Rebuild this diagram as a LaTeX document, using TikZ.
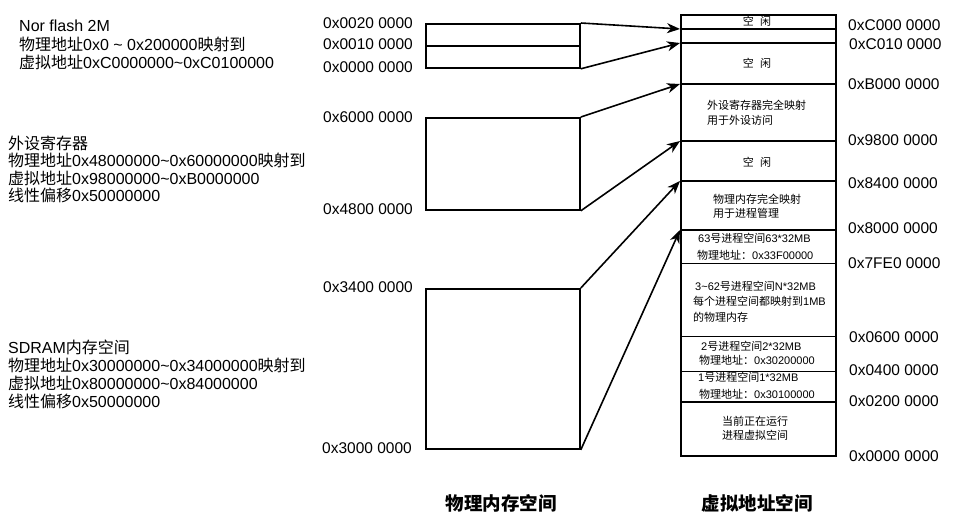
\documentclass[tikz,border=0pt]{standalone}
\usepackage{fontspec}
\setmainfont{Liberation Sans}
\newfontfamily\cjk{Noto Sans CJK SC}
\usetikzlibrary{arrows.meta}
\newcommand\zh[1]{{\cjk #1}}
\newcommand\tld{\textasciitilde}
\newcommand\kx{\zh{空}\hspace{0.55em}\zh{闲}}
\begin{document}
\begin{tikzpicture}[x=1pt,y=-1pt,
  box/.style={draw, line width=1.8pt, inner sep=0pt, anchor=north west},
  arr/.style={line width=1.6pt, -{Stealth[length=13pt,width=10pt,inset=4pt]}},
  addr/.style={font=\fontsize{15.5}{18}\selectfont, inner sep=0pt},
  desc/.style={font=\fontsize{16}{18}\selectfont, inner sep=0pt, anchor=west},
  small/.style={font=\fontsize{11}{13}\selectfont, inner sep=0pt},
  title/.style={font=\fontsize{18.5}{22}\selectfont\cjk\bfseries, inner sep=0pt},
  thickline/.style={line width=1.8pt},
  thinline/.style={line width=0.9pt}
]
\path[use as bounding box] (0,0) rectangle (955,532);

% left descriptions
\node[desc] (n1) at (19,26) {Nor flash 2M};
\node[desc] (n2) at (19,44) {\zh{物理地址}0x0 \tld{} 0x200000\zh{映射到}};
\node[desc] (n3) at (19,62) {\zh{虚拟地址}0xC0000000\tld{}0xC0100000};

\node[desc] (p1) at (8,143) {\zh{外设寄存器}};
\node[desc] (p2) at (8,160) {\zh{物理地址}0x48000000\tld{}0x60000000\zh{映射到}};
\node[desc] (p3) at (8,178) {\zh{虚拟地址}0x98000000\tld{}0xB0000000};
\node[desc] (p4) at (8,195) {\zh{线性偏移}0x50000000};

\node[desc] (s1) at (8,347) {SDRAM\zh{内存空间}};
\node[desc] (s2) at (8,365) {\zh{物理地址}0x30000000\tld{}0x34000000\zh{映射到}};
\node[desc] (s3) at (8,383) {\zh{虚拟地址}0x80000000\tld{}0x84000000};
\node[desc] (s4) at (8,401) {\zh{线性偏移}0x50000000};

% physical boxes
\node[box, minimum width=154pt, minimum height=44pt] (nor) at (425,23) {};
\draw[thickline] (nor.west) -- (nor.east);
\node[box, minimum width=154pt, minimum height=92pt] (per) at (425,117) {};
\node[box, minimum width=154pt, minimum height=160pt] (sd) at (425,288) {};

% virtual column
\node[box, minimum width=155pt, minimum height=441pt] (vm) at (680,14) {};
\foreach \n/\y in {a/29,b/43,c/84,d/141,e/181,f/230,g/263,h/336,i/371,j/402}
  \coordinate (v\n) at (680,\y);
\foreach \n in {a,b,c,d,e,f,j}
  \draw[thickline] (v\n) -- (v\n -| vm.east);
\foreach \n in {g,h,i}
  \draw[thinline] (v\n) -- (v\n -| vm.east);

% arrows
\draw[arr] (nor.north east) -- (va);
\draw[arr] (nor.south east) -- (vb);
\draw[arr] (per.north east) -- (vc);
\draw[arr] (per.south east) -- (vd);
\draw[arr] (sd.north east) -- (ve);
\draw[arr] (sd.south east) -- (vf);

% left addresses
\node[addr, anchor=east] (la1) at (413,23) {0x0020 0000};
\node[addr, anchor=east] (la2) at (413,44) {0x0010 0000};
\node[addr, anchor=east] (la3) at (413,67) {0x0000 0000};
\node[addr, anchor=east] (la4) at (413,117) {0x6000 0000};
\node[addr, anchor=east] (la5) at (413,209) {0x4800 0000};
\node[addr, anchor=east] (la6) at (413,287) {0x3400 0000};
\node[addr, anchor=east] (la7) at (412,448) {0x3000 0000};

% right addresses
\node[addr, anchor=west] (ra1) at (848,25) {0xC000 0000};
\node[addr, anchor=west] (ra2) at (849,44) {0xC010 0000};
\node[addr, anchor=west] (ra3) at (848,84) {0xB000 0000};
\node[addr, anchor=west] (ra4) at (848,140) {0x9800 0000};
\node[addr, anchor=west] (ra5) at (848,183) {0x8400 0000};
\node[addr, anchor=west] (ra6) at (848,228) {0x8000 0000};
\node[addr, anchor=west] (ra7) at (848,263) {0x7FE0 0000};
\node[addr, anchor=west] (ra8) at (849,337) {0x0600 0000};
\node[addr, anchor=west] (ra9) at (849,370) {0x0400 0000};
\node[addr, anchor=west] (ra10) at (849,401) {0x0200 0000};
\node[addr, anchor=west] (ra11) at (849,456) {0x0000 0000};

% texts in virtual column
\node[small] (k1) at (757,21) {\kx};
\node[small] (k2) at (757,63) {\kx};
\node[small, anchor=west] (k3) at (707,105) {\zh{外设寄存器完全映射}};
\node[small, anchor=west] (k4) at (707,120) {\zh{用于外设访问}};
\node[small] (k5) at (757,162) {\kx};
\node[small, anchor=west] (k6) at (713,199) {\zh{物理内存完全映射}};
\node[small, anchor=west] (k7) at (713,213) {\zh{用于进程管理}};
\node[small, anchor=west] (k8) at (698,238) {63\zh{号进程空间}63*32MB};
\node[small, anchor=west] (k9) at (697,255) {\zh{物理地址：}0x33F00000};
\node[small, anchor=west] (k10) at (695,286) {3\tld{}62\zh{号进程空间}N*32MB};
\node[small, anchor=west] (k11) at (693,301) {\zh{每个进程空间都映射到}1MB};
\node[small, anchor=west] (k12) at (693,317) {\zh{的物理内存}};
\node[small, anchor=west] (k13) at (701,346) {2\zh{号进程空间}2*32MB};
\node[small, anchor=west] (k14) at (699,360) {\zh{物理地址：}0x30200000};
\node[small, anchor=west] (k15) at (698,377) {1\zh{号进程空间}1*32MB};
\node[small, anchor=west] (k16) at (699,394) {\zh{物理地址：}0x30100000};
\node[small] (k17) at (755,421) {\zh{当前正在运行}};
\node[small] (k18) at (755,435) {\zh{进程虚拟空间}};

% titles
\node[title] (t1) at (501,503) {物理内存空间};
\node[title] (t2) at (757,503) {虚拟地址空间};
\end{tikzpicture}
\end{document}
